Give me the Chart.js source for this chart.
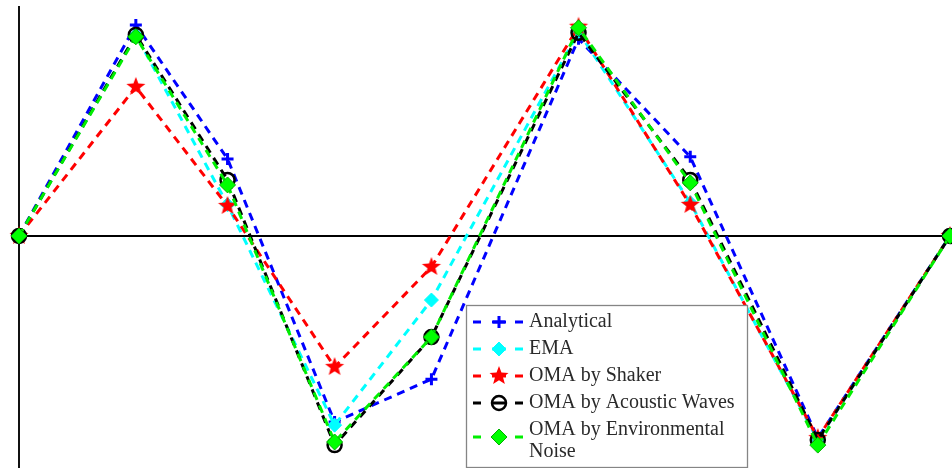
<!DOCTYPE html>
<html>
<head>
<meta charset="utf-8">
<script src="https://cdn.jsdelivr.net/npm/chart.js@4.4.0/dist/chart.umd.min.js"></script>
<style>
  html, body { margin: 0; padding: 0; background: #fff; }
  #wrap { width: 952px; height: 468px; position: relative; }
</style>
</head>
<body>
<div id="wrap"><canvas id="chart"></canvas></div>
<script>
// ─── Data (sensor positions and normalised mode shape) ─────────────────────
const POSITIONS    = [0, 1.255, 2.24, 3.39, 4.43, 6.01, 7.21, 8.58, 10];
const ANALYTICAL   = [0, 1.014, 0.370, -0.894, -0.688, 0.947, 0.380, -0.971, 0];
const EMA          = [0, 0.966, 0.150, -0.909, -0.308, 0.981, 0.160, -0.981, 0];
const OMA_SHAKER   = [0, 0.716, 0.144, -0.630, -0.149, 1.005, 0.149, -0.971, 0];
const OMA_ACOUSTIC = [0, 0.966, 0.269, -1.005, -0.486, 0.976, 0.269, -0.981, 0];
const OMA_ENV      = [0, 0.957, 0.245, -0.990, -0.486, 1.000, 0.255, -1.005, 0];
const LABELS = ['Analytical', 'EMA', 'OMA by Shaker', 'OMA by Acoustic Waves', 'OMA by Environmental\nNoise'];

// ─── Marker helpers ────────────────────────────────────────────────────────
function makeStar(r, color) {
  const c = document.createElement('canvas');
  const s = Math.ceil(r * 2 + 2);
  c.width = c.height = s;
  const g = c.getContext('2d');
  g.fillStyle = color;
  g.beginPath();
  for (let i = 0; i < 10; i++) {
    const a = -Math.PI / 2 + i * Math.PI / 5;
    const rr = i % 2 ? r * 0.42 : r;
    g.lineTo(s / 2 + rr * Math.cos(a), s / 2 + rr * Math.sin(a));
  }
  g.closePath();
  g.fill();
  return c;
}
const STAR = makeStar(10, '#ff0000');

const toPts = ys => ys.map((y, i) => ({ x: POSITIONS[i], y }));

const SERIES = [
  { label: LABELS[0], data: toPts(ANALYTICAL), color: '#0000ff', pointStyle: 'cross', radius: 6, pw: 3, fill: '#0000ff' },
  { label: LABELS[1], data: toPts(EMA), color: '#00ffff', pointStyle: 'rectRot', radius: 7, pw: 1, fill: '#00ffff' },
  { label: LABELS[2], data: toPts(OMA_SHAKER), color: '#ff0000', pointStyle: STAR, radius: 10, pw: 0, fill: '#ff0000' },
  { label: LABELS[3], data: toPts(OMA_ACOUSTIC), color: '#000000', pointStyle: 'circle', radius: 7, pw: 2.5, fill: 'rgba(0,0,0,0)' },
  { label: LABELS[4], data: toPts(OMA_ENV), color: '#00ee00', pointStyle: 'rectRot', radius: 8, pw: 1, fill: '#00ff00', border: '#00b000' },
];

// ─── Legend box drawn on canvas ────────────────────────────────────────────
const legendBox = {
  id: 'legendBox',
  afterDraw(chart) {
    const { ctx } = chart;
    ctx.save();
    ctx.fillStyle = '#fff';
    ctx.fillRect(466, 305, 282, 162);
    ctx.strokeStyle = '#858585';
    ctx.lineWidth = 1.3;
    ctx.strokeRect(466.5, 305.5, 281, 162);
    const rows = [322, 349, 376, 403, 437];
    ctx.font = '20px "Liberation Serif", "Times New Roman", serif';
    ctx.textBaseline = 'middle';
    SERIES.forEach((s, i) => {
      const y = rows[i];
      ctx.strokeStyle = s.color;
      ctx.lineWidth = 3;
      ctx.beginPath();
      ctx.moveTo(473, y); ctx.lineTo(481, y);
      ctx.moveTo(492, y); ctx.lineTo(506, y);
      ctx.moveTo(515, y); ctx.lineTo(523, y);
      ctx.stroke();
      ctx.fillStyle = s.fill;
      ctx.strokeStyle = s.border || s.color;
      ctx.lineWidth = s.pw;
      Chart.helpers.drawPoint(ctx, { pointStyle: s.pointStyle, radius: s.radius, rotation: 0, borderWidth: s.pw }, 499, y);
      ctx.fillStyle = '#2a2a2a';
      const lines = s.label.split('\n');
      const y0 = lines.length > 1 ? y - 7 : y;
      lines.forEach((t, k) => ctx.fillText(t, 529, y0 + k * 22));
    });
    ctx.restore();
  }
};

// ─── Chart ─────────────────────────────────────────────────────────────────
new Chart(document.getElementById('chart'), {
  type: 'line',
  data: {
    datasets: SERIES.map((s, i) => ({
      label: s.label,
      data: s.data,
      borderColor: s.color,
      borderWidth: 3,
      borderDash: [8, 6],
      backgroundColor: s.fill,
      pointStyle: s.pointStyle,
      pointRadius: s.radius,
      pointBorderWidth: s.pw,
      pointBorderColor: s.border || s.color,
      pointBackgroundColor: s.fill,
      tension: 0,
      clip: false,
      order: SERIES.length - i,
    }))
  },
  options: {
    responsive: true, maintainAspectRatio: false, animation: false,
    layout: { autoPadding: false, padding: { left: 19, right: 2, top: 7, bottom: 0 } },
    plugins: { legend: { display: false }, tooltip: { enabled: false } },
    scales: {
      x: { type: 'linear', min: 0, max: 10, display: false },
      y: {
        min: -1.115, max: 1.1,
        afterBuildTicks: s => { s.ticks = [{ value: 0 }]; },
        ticks: { display: false },
        grid: { color: '#000', lineWidth: 2, drawTicks: false },
        border: { display: true, color: '#111', width: 2 },
      }
    }
  },
  plugins: [legendBox]
});
</script>
</body>
</html>
